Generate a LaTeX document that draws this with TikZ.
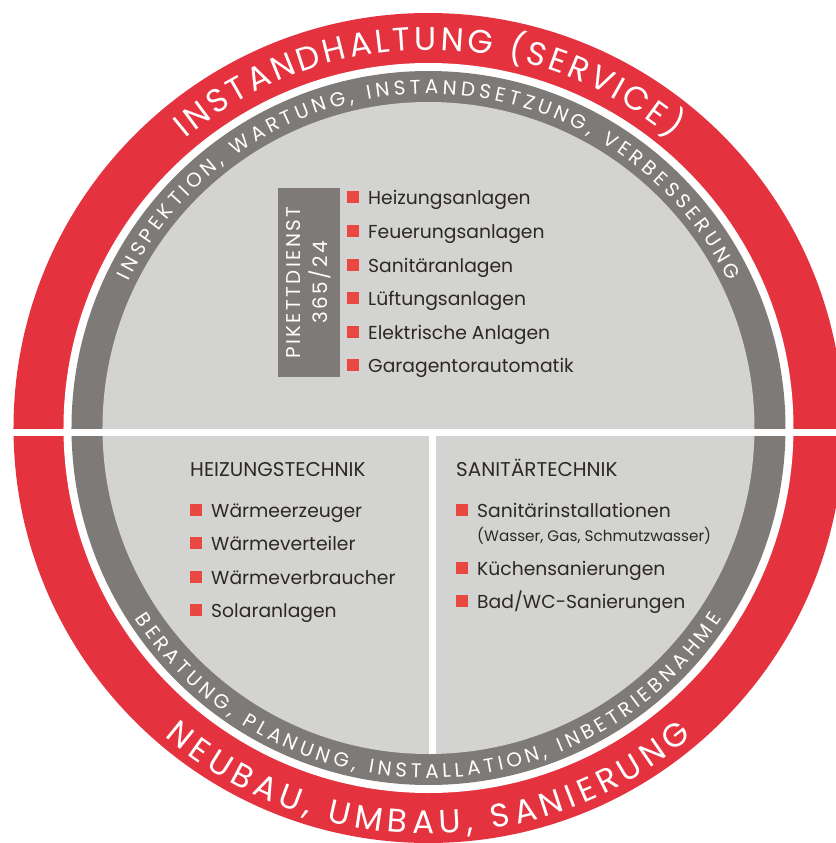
\documentclass[tikz,border=0pt]{standalone}
\usepackage{fontspec}
\setmainfont{Poppins}
\usetikzlibrary{positioning,decorations.text}
\definecolor{ringred}{HTML}{E5323F}
\definecolor{ringgray}{HTML}{7E7A77}
\definecolor{fieldgray}{HTML}{D3D3D2}
\definecolor{bulletred}{HTML}{E84840}
\definecolor{textdark}{HTML}{2D2825}
\newcommand{\redringfont}{\fontsize{28}{30}\selectfont\color{white}}
\newcommand{\grayringfont}{\fontsize{17}{20}\selectfont\color{white}}
\tikzset{
  sq/.style={fill=bulletred,inner sep=0pt,minimum size=3.6mm},
  item/.style={font=\fontsize{16}{19}\selectfont,text=textdark,inner sep=0pt,text height=4.5mm,text depth=0pt,anchor=base west,label={[sq,xshift=-2.7mm]left:{}}},
  head/.style={font=\fontsize{17}{20}\selectfont,text=textdark,inner sep=0pt,anchor=base west},
  ringtext/.style={decorate,decoration={text along path,text align=fit to path,text={#1}}}
}

\begin{document}
\begin{tikzpicture}[x=0.3mm,y=0.3mm,node distance=10.05mm]
\useasboundingbox (-428.5,-415) rectangle (407.5,428);
% rings
\fill[ringred] (0,0) circle[radius=415];
\fill[white] (0,0) circle[radius=365];
\fill[ringgray] (0,0) circle[radius=357];
\fill[fieldgray] (0,0) circle[radius=326];
\fill[white] (-430,-7.5) rectangle (420,-0.5);
\fill[white] (1,-4) rectangle (8,-326);
% texts on the rings
\path[ringtext={|\redringfont|INSTANDHALTUNG (SERVICE)}] (130:378) arc[start angle=130,end angle=50,radius=378];
\path[ringtext={|\grayringfont|INSPEKTION, WARTUNG, INSTANDSETZUNG, VERBESSERUNG}] (154:334) arc[start angle=154,end angle=26,radius=334];
\path[ringtext={|\grayringfont|BERATUNG, PLANUNG, INSTALLATION, INBETRIEBNAHME}] (213:350) arc[start angle=213,end angle=327,radius=350];
\path[ringtext={|\redringfont|NEUBAU, UMBAU, SANIERUNG}] (229.5:406) arc[start angle=229.5,end angle=310.5,radius=406];
% service
\node[fill=ringgray,text=white,rotate=90,align=center,inner sep=0pt,minimum width=56.7mm,minimum height=18.6mm,font=\fontsize{17}{23}\selectfont\addfontfeature{LetterSpace=12}] (pikett) at (-119.5,145.5) {PIKETTDIENST\\365/24};
\node[item] (h1) at (-60.5,223) {Heizungsanlagen};
\node[item,below=of h1.base west,anchor=base west] (h2) {Feuerungsanlagen};
\node[item,below=of h2.base west,anchor=base west] (h3) {Sanitäranlagen};
\node[item,below=of h3.base west,anchor=base west] (h4) {Lüftungsanlagen};
\node[item,below=of h4.base west,anchor=base west] (h5) {Elektrische Anlagen};
\node[item,below=of h5.base west,anchor=base west] (h6) {Garagentorautomatik};
% heizung
\node[head] (heiz) at (-238.5,-48) {HEIZUNGSTECHNIK};
\node[item] (w1) at (-217.5,-89) {Wärmeerzeuger};
\node[item,below=of w1.base west,anchor=base west] (w2) {Wärmeverteiler};
\node[item,below=of w2.base west,anchor=base west] (w3) {Wärmeverbraucher};
\node[item,below=of w3.base west,anchor=base west] (w4) {Solaranlagen};
% sanitaer
\node[head] (sani) at (27.5,-48) {SANITÄRTECHNIK};
\node[item] (s1) at (48.5,-89) {Sanitärinstallationen};
\node[font=\fontsize{13}{15}\selectfont,text=textdark,inner sep=0pt,below=7.2mm of s1.base west,anchor=base west] (s1note) {(Wasser, Gas, Schmutzwasser)};
\node[item,below=17.4mm of s1.base west,anchor=base west] (s2) {Küchensanierungen};
\node[item,below=of s2.base west,anchor=base west] (s3) {Bad/WC-Sanierungen};
\end{tikzpicture}
\end{document}
